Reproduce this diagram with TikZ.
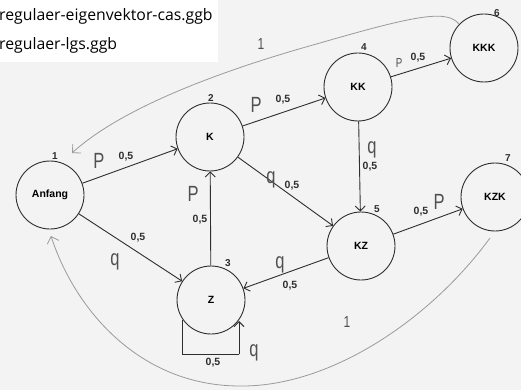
\documentclass[tikz,border=0pt]{standalone}
\usepackage{fontspec}
\setmainfont{Liberation Sans}
\newfontfamily\uifont{Open Sans}
\newfontfamily\handfont{Liberation Sans}
\usetikzlibrary{arrows.meta,calc}
\definecolor{bg}{HTML}{F3F3F3}
\definecolor{ink}{HTML}{2E2E2E}
\definecolor{pencil}{HTML}{505050}
\definecolor{lightink}{HTML}{9A9A9A}
\begin{document}
\begin{tikzpicture}[x=1pt,y=-1pt,
  state/.style={circle,draw=ink,line width=0.9pt,minimum size=68pt,inner sep=0pt,font=\fontsize{10.5}{10.5}\selectfont\bfseries},
  edge/.style={draw=ink,line width=0.9pt,-{Straight Barb[length=5pt,width=10pt]}},
  back/.style={draw=lightink,line width=0.8pt,-{Straight Barb[length=6pt,width=12pt]}},
  num/.style={font=\fontsize{10.5}{10.5}\selectfont\bfseries,text=ink,inner sep=0pt},
  hand/.style={font=\handfont\fontsize{22}{22}\selectfont,text=pencil,inner sep=0pt,xscale=0.75},
  idx/.style={font=\fontsize{10}{10}\selectfont\bfseries,text=ink,inner sep=0pt}]
\fill[bg] (0,0) rectangle (521,390);
\useasboundingbox (0,0) rectangle (521,390);
\fill[white] (0,0) rectangle (218,62);
\node[anchor=west,inner sep=0pt,font=\uifont\fontsize{15.8}{15.8}\selectfont,text=black] (f1) at (-1,16) {regulaer-eigenvektor-cas.ggb};
\node[anchor=west,inner sep=0pt,font=\uifont\fontsize{15.8}{15.8}\selectfont,text=black] (f2) at (-1,45) {regulaer-lgs.ggb};

\node[state] (A) at (50,195) {Anfang};
\node[state] (K) at (210,137) {K};
\node[state] (Z) at (211,300) {Z};
\node[state] (KK) at (358,87) {KK};
\node[state] (KKK) at (484,48) {KKK};
\node[state] (KZ) at (361,246) {KZ};
\node[state] (KZK) at (495,197) {KZK};

\node[idx] (i1) at (55,156) {1};
\node[idx] (i2) at (211,98) {2};
\node[idx] (i3) at (228,263) {3};
\node[idx] (i4) at (364,47) {4};
\node[idx] (i6) at (497,13) {6};
\node[idx] (i5) at (377,209) {5};
\node[idx] (i7) at (508,158) {7};

\draw[edge] (A) -- (K);
\node[hand] (l1) at (99,161) {P};
\node[num] (n1) at (126,157) {0,5};
\draw[edge] (A) -- (Z);
\node[num] (n2) at (138,238) {0,5};
\node[hand] (l2) at (115,262) {q};
\draw[edge] (Z) -- (K);
\node[hand] (l3) at (193,194) {P};
\node[num] (n3) at (200,220) {0,5};
\draw[edge] (K) -- (KK);
\node[hand] (l4) at (256,105) {P};
\node[num] (n4) at (283,100) {0,5};
\draw[edge] (K) -- (KZ);
\node[hand] (l5) at (271,180) {q};
\node[num] (n5) at (292,186) {0,5};
\draw[edge] (KK) -- (KKK);
\node[hand,font=\handfont\fontsize{13}{13}\selectfont] (l6) at (399,63) {P};
\node[num] (n6) at (418,58) {0,5};
\draw[edge] (KK) -- (KZ);
\node[hand] (l7) at (372,150) {q};
\node[num] (n7) at (370,167) {0,5};
\draw[edge] (KZ) -- (Z);
\node[hand] (l8) at (280,265) {q};
\node[num] (n8) at (290,286) {0,5};
\draw[edge] (KZ) -- (KZK);
\node[num] (n9) at (421,212) {0,5};
\node[hand] (l9) at (439,202) {P};

\coordinate (s1) at ($(Z.center)+(-29,20)$);
\coordinate (s2) at (182,354);
\coordinate (s3) at (239,354);
\coordinate (s4) at ($(Z.center)+(28,21)$);
\draw[ink,line width=0.9pt] (s1) -- (s2) -- (s3);
\draw[edge] (s3) -- (s4);
\node[num] (n10) at (213,363) {0,5};
\node[hand] (l10) at (254,353) {q};

\coordinate (b1) at (459,24);
\coordinate (b2) at (72,153);
\draw[back] (b1) .. controls (447,10) and (420,14) .. (320,43) .. controls (230,68) and (125,105) .. (b2);
\node[hand,font=\handfont\fontsize{16}{16}\selectfont] (l11) at (261,44) {1};
\coordinate (c1) at (490,238);
\coordinate (c2) at (51,236);
\draw[back] (c1) .. controls (430,320) and (330,387) .. (240,386) .. controls (140,386) and (75,310) .. (c2);
\node[hand,font=\handfont\fontsize{16}{16}\selectfont] (l12) at (347,322) {1};
\end{tikzpicture}
\end{document}
